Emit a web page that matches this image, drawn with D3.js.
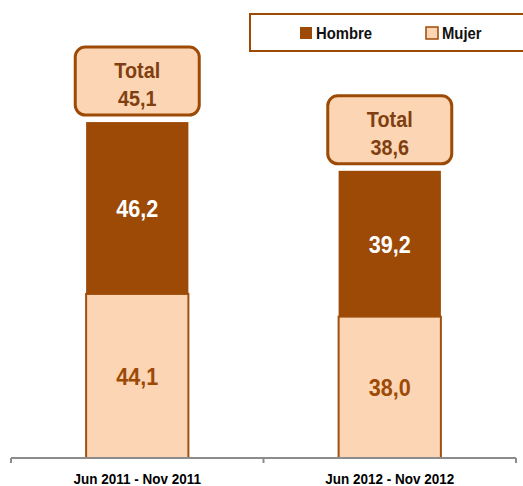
<!DOCTYPE html>
<html>
<head>
<meta charset="utf-8">
<script src="https://cdn.jsdelivr.net/npm/d3@7"></script>
<style>
  body { margin: 0; background: #fff; }
  svg { display: block; font-family: "Liberation Sans", Arial, sans-serif; }
</style>
</head>
<body>
<svg id="chart" width="523" height="486"></svg>
<script>
// Datos
const periodos = ["Jun 2011 - Nov 2011", "Jun 2012 - Nov 2012"];
const mujer = [44.1, 38.0];
const hombre = [46.2, 39.2];
const total = [45.1, 38.6];
const series = ["Hombre", "Mujer"];

const colorHombre = "#9c4a06";
const colorMujer = "#fcd5b5";
const colorBorde = "#a0500f";
const colorTexto = "#7f3f10";

const fmt = v => v.toFixed(1).replace(".", ",");

const svg = d3.select("#chart");

const x = d3.scaleBand().domain(periodos).range([11, 516]).padding(0);
const y = d3.scaleLinear().domain([0, 100]).range([458, 86]);
const barW = x.bandwidth() * 0.405;
const cx = p => x(p) + x.bandwidth() / 2;

// texto algo estrecho, como en el original
function label(sel, px, py) {
  return sel.append("text")
    .attr("transform", (d, i) => `translate(${px(d, i)},${py(d, i)}) scale(0.9,1)`)
    .attr("font-weight", "bold");
}

const data = periodos.map((p, i) => ({ p, m: mujer[i], h: hombre[i], t: total[i] }));

// Barras
const g = svg.selectAll("g.bar").data(data).enter().append("g").attr("class", "bar");

g.append("rect")
  .attr("x", d => cx(d.p) - barW / 2)
  .attr("y", d => y(d.m))
  .attr("width", barW)
  .attr("height", d => y(0) - y(d.m))
  .attr("fill", colorMujer)
  .attr("stroke", colorBorde)
  .attr("stroke-width", 2);

g.append("rect")
  .attr("x", d => cx(d.p) - barW / 2)
  .attr("y", d => y(d.m + d.h))
  .attr("width", barW)
  .attr("height", d => y(d.m) - y(d.m + d.h))
  .attr("fill", colorHombre);

label(g, d => cx(d.p), d => (y(d.m) + y(0)) / 2 + 9)
  .attr("text-anchor", "middle")
  .attr("font-size", "24px")
  .attr("fill", colorHombre)
  .text(d => fmt(d.m));

label(g, d => cx(d.p), d => (y(d.m) + y(d.m + d.h)) / 2 + 9)
  .attr("text-anchor", "middle")
  .attr("font-size", "24px")
  .attr("fill", "#fff")
  .text(d => fmt(d.h));

// Cajas de total
const boxW = 124, boxH = 68;
const boxTop = d => y(d.m + d.h) - 7 - boxH;
g.append("rect")
  .attr("x", d => cx(d.p) - boxW / 2)
  .attr("y", boxTop)
  .attr("width", boxW)
  .attr("height", boxH)
  .attr("rx", 10)
  .attr("fill", colorMujer)
  .attr("stroke", colorHombre)
  .attr("stroke-width", 3);

label(g, d => cx(d.p), d => boxTop(d) + 31)
  .attr("text-anchor", "middle")
  .attr("font-size", "22px")
  .attr("fill", colorTexto)
  .text("Total");

label(g, d => cx(d.p), d => boxTop(d) + 59)
  .attr("text-anchor", "middle")
  .attr("font-size", "22px")
  .attr("fill", colorTexto)
  .text(d => fmt(d.t));

// Eje
svg.append("line")
  .attr("x1", x.range()[0]).attr("x2", x.range()[1])
  .attr("y1", y(0)).attr("y2", y(0))
  .attr("stroke", "#8c8c8c").attr("stroke-width", 2);

const bordes = periodos.map(p => x(p)).concat([x.range()[1]]);
svg.selectAll("line.tick").data(bordes).enter().append("line")
  .attr("x1", d => d).attr("x2", d => d)
  .attr("y1", y(0)).attr("y2", y(0) + 5)
  .attr("stroke", "#8c8c8c").attr("stroke-width", 2);

label(svg.selectAll("text.cat").data(periodos).enter(), d => cx(d), () => 484)
  .attr("text-anchor", "middle")
  .attr("font-size", "15px")
  .attr("fill", "#000")
  .text(d => d);

// Leyenda
svg.append("rect")
  .attr("x", 250).attr("y", 14)
  .attr("width", 290).attr("height", 37)
  .attr("fill", "#fff")
  .attr("stroke", colorHombre)
  .attr("stroke-width", 2);

const legX = [300, 426];
const leg = svg.selectAll("g.leg").data(series).enter().append("g")
  .attr("transform", (d, i) => `translate(${legX[i]},27)`);

leg.append("rect")
  .attr("width", 12).attr("height", 12)
  .attr("fill", (d, i) => i === 0 ? colorHombre : colorMujer)
  .attr("stroke", colorHombre)
  .attr("stroke-width", (d, i) => i === 0 ? 0 : 1.5);

label(leg, () => 16, () => 12)
  .attr("font-size", "16.5px")
  .attr("fill", "#111")
  .text(d => d);
</script>
</body>
</html>
